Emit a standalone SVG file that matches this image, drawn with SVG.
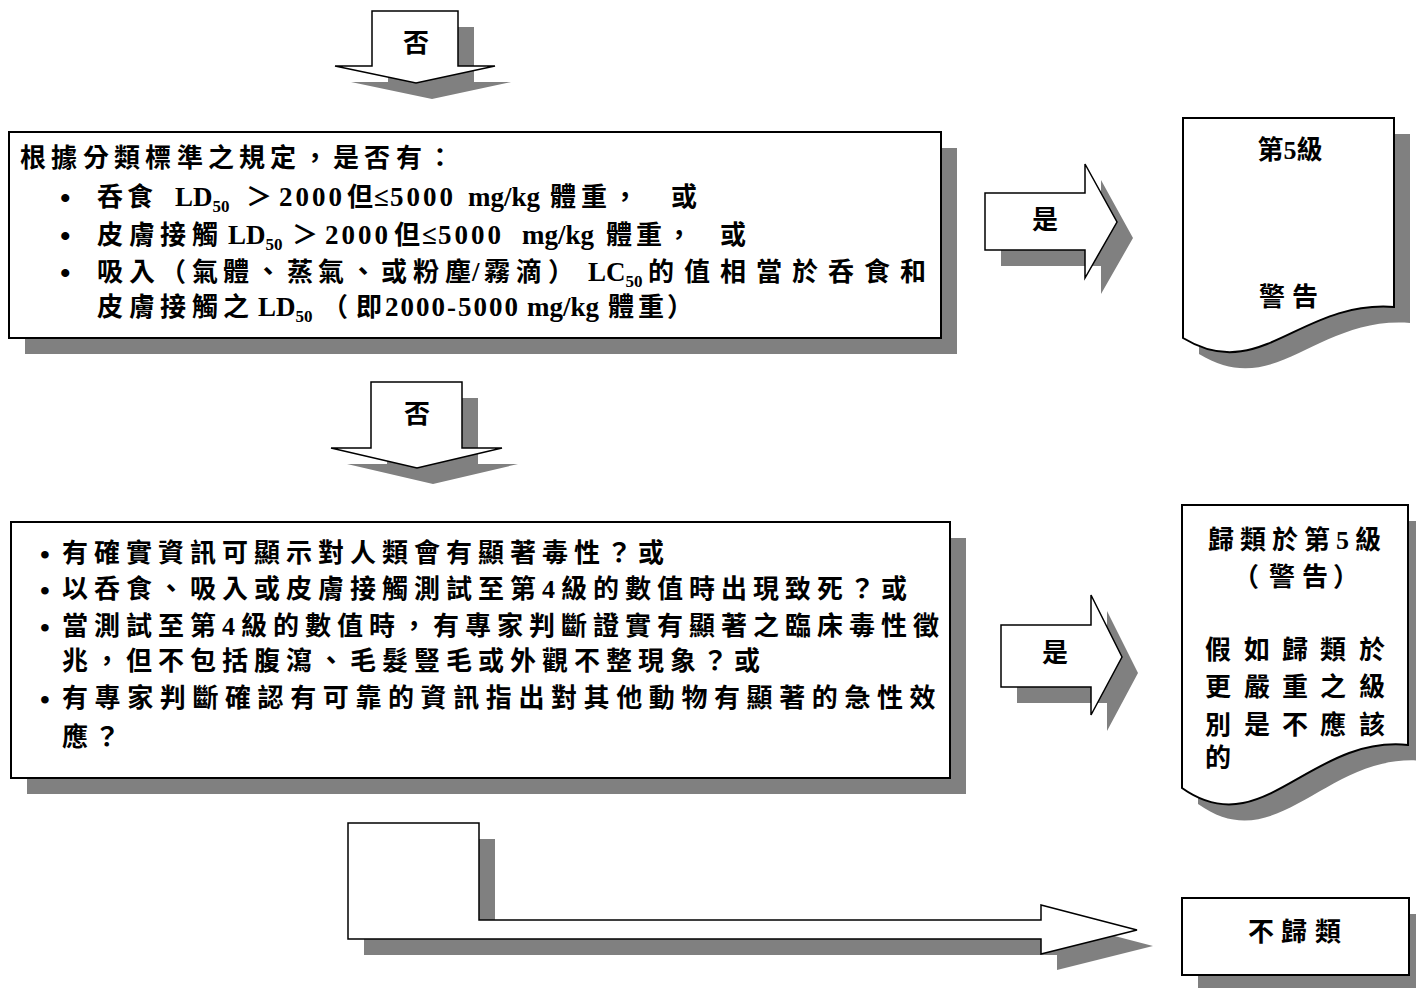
<svg xmlns="http://www.w3.org/2000/svg" width="1416" height="988" viewBox="0 0 1416 988">
<style>
.shadow{fill:#808080;}
.shape{fill:#fff;stroke:#000;stroke-width:2;}
.arrow{fill:#fff;stroke:#000;stroke-width:1.5;stroke-linejoin:miter;}
.t{font-family:"Liberation Serif","Noto Sans CJK TC",serif;font-weight:bold;font-size:26px;fill:#000;}
.c{text-anchor:middle;}
.l{font-size:27px;letter-spacing:0;}
.d{font-size:27px;letter-spacing:3px;}
.s{font-size:17px;letter-spacing:0;}
.b{font-family:"Liberation Serif",serif;font-weight:bold;font-size:30px;}
.b2{font-family:"Liberation Serif",serif;font-weight:bold;font-size:28px;}
</style>
<rect width="1416" height="988" fill="#fff"/>
<g id="connectors">
  <g id="arrow-no-1">
    <path class="shadow" transform="translate(16,16)" d="M372,11 H458 V66 H495 L416,83 L335,66 H372 Z"/>
    <path class="arrow" d="M372,11 H458 V66 H495 L416,83 L335,66 H372 Z"/>
    <text class="t c" x="416" y="52">否</text>
  </g>
  <g id="arrow-yes-1">
    <path class="shadow" transform="translate(16,16)" d="M985,193 H1085 V164 L1117,222 L1085,278 V250 H985 Z"/>
    <path class="arrow" d="M985,193 H1085 V164 L1117,222 L1085,278 V250 H985 Z"/>
    <text class="t c" x="1045" y="229">是</text>
  </g>
  <g id="arrow-no-2">
    <path class="shadow" transform="translate(16,16)" d="M371,382 H462 V448 H502 L417,468 L331,448 H371 Z"/>
    <path class="arrow" d="M371,382 H462 V448 H502 L417,468 L331,448 H371 Z"/>
    <text class="t c" x="417" y="423">否</text>
  </g>
  <g id="arrow-yes-2">
    <path class="shadow" transform="translate(16,16)" d="M1001,625 H1091 V595 L1122,657 L1091,715 V687 H1001 Z"/>
    <path class="arrow" d="M1001,625 H1091 V595 L1122,657 L1091,715 V687 H1001 Z"/>
    <text class="t c" x="1055" y="662">是</text>
  </g>
  <g id="arrow-no-3">
    <path class="shadow" transform="translate(16,16)" d="M348,823 H479 V920 H1041 V905 L1137,930 L1041,954 V939 H348 Z"/>
    <path class="arrow" d="M348,823 H479 V920 H1041 V905 L1137,930 L1041,954 V939 H348 Z"/>
  </g>
</g>
<g id="box-category5-criteria">
  <rect class="shadow" x="25" y="148" width="932" height="206"/>
  <rect class="shape" x="9" y="132" width="932" height="206"/>
  <text class="t" x="20 51 83 114 145 177 208 239 270 302 333 364 396 427" y="167">根據分類標準之規定，是否有：</text>
  <text class="b" x="60" y="208">•</text>
  <text class="b" x="60" y="246">•</text>
  <text class="b" x="60" y="283">•</text>
  <text class="t" y="206"><tspan x="97 127">呑食</tspan><tspan class="l" x="175">LD</tspan><tspan class="s" dy="6">50</tspan><tspan x="246" dy="-6">＞</tspan><tspan class="d" x="279">2000</tspan><tspan x="347">但</tspan><tspan class="l" x="374">≤</tspan><tspan class="d" x="390">5000</tspan><tspan class="l" x="468">mg/kg</tspan><tspan x="550 581 612 671">體重，或</tspan></text>
  <text class="t" y="244"><tspan x="97 129 160 192">皮膚接觸</tspan><tspan class="l" x="228">LD</tspan><tspan class="s" dy="6">50</tspan><tspan x="292" dy="-6">＞</tspan><tspan class="d" x="325">2000</tspan><tspan x="394">但</tspan><tspan class="l" x="422">≤</tspan><tspan class="d" x="438">5000</tspan><tspan class="l" x="522">mg/kg</tspan><tspan x="606 636 666 720">體重，或</tspan></text>
  <text class="t" y="281"><tspan x="97 129 160 192 223 255 287 318 350 381 413 445">吸入（氣體、蒸氣、或粉塵</tspan><tspan class="l" x="472">/</tspan><tspan x="484 516 548">霧滴）</tspan><tspan class="l" x="588">LC</tspan><tspan class="s" dy="6">50</tspan><tspan x="648 684 720 756 792 828 864 900" dy="-6">的值相當於呑食和</tspan></text>
  <text class="t" y="316"><tspan x="97 129 160 192 223">皮膚接觸之</tspan><tspan class="l" x="258">LD</tspan><tspan class="s" dy="6">50</tspan><tspan x="322" dy="-6">（</tspan><tspan x="356">即</tspan><tspan class="l" x="385" style="letter-spacing:2px">2000-5000</tspan><tspan class="l" x="527">mg/kg</tspan><tspan x="608 638 667">體重）</tspan></text>
</g>
<g id="doc-category5">
  <path class="shadow" transform="translate(16,16)" d="M1183,118 H1394 V307 C1300,300 1260,385 1183,338 Z"/>
  <path class="shape" d="M1183,118 H1394 V307 C1300,300 1260,385 1183,338 Z"/>
  <text class="t c" x="1290" y="159">第5級</text>
  <text class="t c" x="1272 1305" y="306">警告</text>
</g>
<g id="box-other-evidence">
  <rect class="shadow" x="27" y="538" width="939" height="256"/>
  <rect class="shape" x="11" y="522" width="939" height="256"/>
  <text class="b2" x="40" y="564">•</text>
  <text class="b2" x="40" y="600">•</text>
  <text class="b2" x="40" y="637">•</text>
  <text class="b2" x="40" y="709">•</text>
  <text class="t" x="62" y="562" style="letter-spacing:6px">有確實資訊可顯示對人類會有顯著毒性？或</text>
  <text class="t" x="62" y="598" style="letter-spacing:6px">以呑食、吸入或皮膚接觸測試至第4級的數值時出現致死？或</text>
  <text class="t" x="62" y="635" style="letter-spacing:6px">當測試至第4級的數值時，有專家判斷證實有顯著之臨床毒性徵</text>
  <text class="t" x="62" y="670" style="letter-spacing:6px">兆，但不包括腹瀉、毛髮豎毛或外觀不整現象？或</text>
  <text class="t" x="62" y="707" style="letter-spacing:6.6px">有專家判斷確認有可靠的資訊指出對其他動物有顯著的急性效</text>
  <text class="t" x="62" y="746" style="letter-spacing:6px">應？</text>
</g>
<g id="doc-classify-category5">
  <path class="shadow" transform="translate(16,16)" d="M1182,505 H1408 V745 C1310,735 1262,845 1182,788 Z"/>
  <path class="shape" d="M1182,505 H1408 V745 C1310,735 1262,845 1182,788 Z"/>
  <text class="t" x="1208" y="549" style="letter-spacing:6px">歸類於第5級</text>
  <text class="t" x="1233 1269 1302 1333" y="586">（警告）</text>
  <text class="t c" x="1218 1257 1295 1333 1372" y="659">假如歸類於</text>
  <text class="t c" x="1218 1257 1295 1333 1372" y="696">更嚴重之級</text>
  <text class="t c" x="1218 1257 1295 1333 1372" y="734">別是不應該</text>
  <text class="t c" x="1218" y="767">的</text>
</g>
<g id="box-not-classified">
  <rect class="shadow" x="1198" y="914" width="227" height="77"/>
  <rect class="shape" x="1182" y="898" width="227" height="77"/>
  <text class="t c" x="1261 1294 1328" y="941">不歸類</text>
</g>
</svg>
